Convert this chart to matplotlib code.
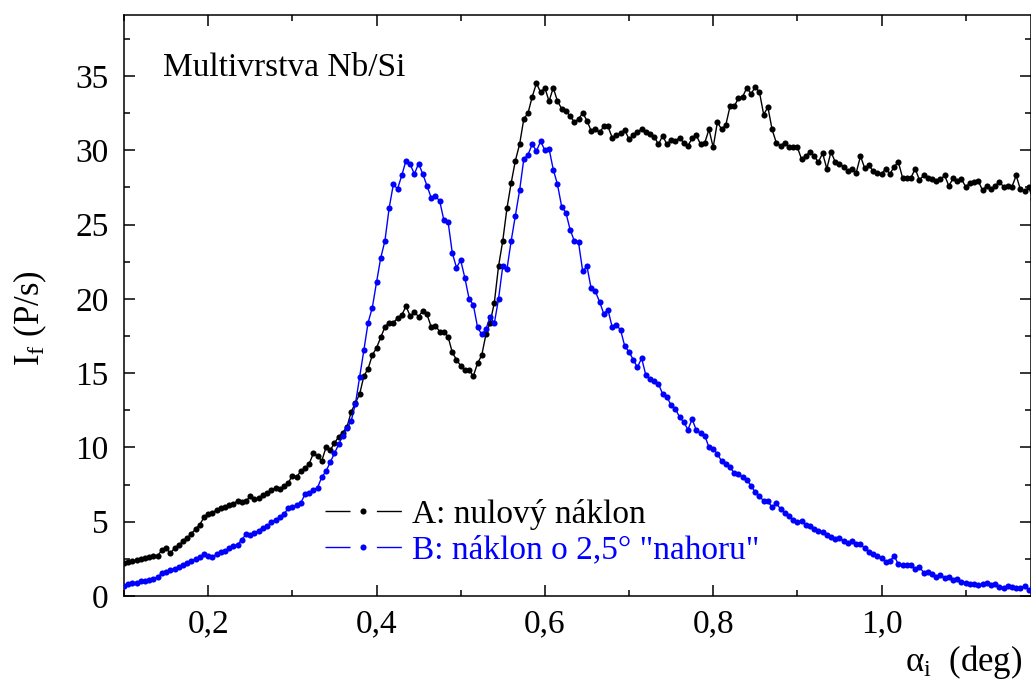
import numpy as np
import matplotlib
matplotlib.use("Agg")
import matplotlib.pyplot as plt
from matplotlib.lines import Line2D
from matplotlib.ticker import MultipleLocator, FuncFormatter

# ---------------- data ----------------
angle_start = 0.100
angle_step = 0.005
angle_count = 217

intensity_A = [
    2.2, 2.3, 2.35, 2.4, 2.5, 2.55, 2.6, 2.7, 2.7, 3.1,
    3.2, 2.9, 3.2, 3.4, 3.7, 3.9, 4.2, 4.5, 4.8, 5.3,
    5.5, 5.6, 5.8, 5.9, 6.0, 6.1, 6.2, 6.4, 6.3, 6.4,
    6.7, 6.5, 6.6, 6.8, 6.9, 7.1, 7.3, 7.2, 7.4, 7.6,
    8.1, 8.0, 8.4, 8.6, 8.9, 9.6, 9.4, 9.1, 10.0, 9.8,
    10.3, 10.7, 11.0, 11.4, 12.4, 13.0, 13.6, 14.8, 15.3, 16.2,
    16.7, 17.4, 18.1, 18.4, 18.4, 18.7, 18.9, 19.5, 18.85, 19.1,
    18.8, 19.2, 18.95, 18.1, 18.2, 17.8, 17.8, 17.45, 16.4, 15.9,
    15.5, 15.2, 15.2, 14.8, 15.65, 16.2, 17.6, 18.4, 19.75, 22.2,
    23.9, 26.1, 27.8, 29.3, 30.4, 32.1, 32.5, 33.6, 34.5, 33.9,
    34.2, 33.3, 34.2, 33.3, 32.8, 32.65, 32.3, 31.9, 32.1, 32.5,
    32.0, 31.3, 31.4, 31.2, 31.6, 31.6, 30.85, 31.0, 31.15, 31.35,
    30.75, 31.0, 31.25, 31.4, 31.25, 31.1, 30.9, 30.4, 30.97, 30.4,
    30.7, 30.6, 30.85, 30.5, 30.3, 30.8, 31.0, 30.4, 30.5, 31.4,
    30.2, 31.9, 31.4, 31.7, 32.95, 32.95, 33.5, 33.6, 34.2, 33.8,
    34.25, 33.9, 32.4, 32.9, 31.4, 30.5, 30.3, 30.5, 30.2, 30.2,
    30.2, 29.4, 29.6, 29.9, 29.6, 29.2, 29.8, 28.76, 29.9, 29.2,
    29.05, 28.9, 28.6, 28.76, 28.5, 29.6, 28.8, 28.98, 28.6, 28.5,
    28.4, 28.76, 28.4, 28.9, 29.2, 28.15, 28.15, 28.15, 28.76, 28.0,
    28.3, 28.15, 28.04, 27.9, 28.04, 28.3, 27.6, 28.1, 27.9, 28.04,
    27.55, 27.77, 27.86, 27.93, 27.3, 27.6, 27.36, 27.6, 27.86, 27.55,
    27.6, 27.55, 28.3, 27.36, 27.25, 27.5, 26.7,
]

intensity_B = [
    0.7, 0.8, 0.85, 0.9, 1.0, 1.0, 1.1, 1.15, 1.25, 1.55,
    1.6, 1.75, 1.85, 1.95, 2.1, 2.25, 2.35, 2.5, 2.6, 2.8,
    2.7, 2.6, 2.8, 2.95, 3.05, 3.2, 3.35, 3.45, 3.8, 4.15,
    4.1, 4.25, 4.4, 4.6, 4.7, 4.95, 5.1, 5.3, 5.5, 5.9,
    6.0, 6.1, 6.25, 6.85, 6.9, 7.1, 7.3, 8.0, 8.4, 9.0,
    9.6, 10.2, 10.8, 11.3, 11.8, 12.95, 14.75, 16.55, 18.4, 19.4,
    21.1, 22.75, 23.9, 26.1, 27.7, 27.4, 28.3, 29.3, 29.05, 28.4,
    29.1, 28.4, 27.6, 26.8, 26.9, 26.6, 25.3, 25.2, 23.1, 22.1,
    22.6, 21.4, 20.0, 19.6, 18.1, 17.6, 17.95, 18.8, 18.36, 20.0,
    22.2, 22.0, 23.9, 25.6, 27.3, 29.4, 29.7, 30.4, 29.95, 30.6,
    30.0, 30.1, 28.7, 27.7, 26.2, 25.8, 24.66, 23.9, 23.8, 21.85,
    22.2, 20.7, 20.5, 19.8, 19.0, 19.26, 18.1, 18.24, 17.9, 16.8,
    16.44, 15.9, 15.4, 16.0, 14.86, 14.6, 14.5, 14.26, 13.6, 13.4,
    12.84, 12.6, 12.05, 11.7, 11.2, 11.9, 11.15, 10.97, 10.8, 10.0,
    9.9, 9.57, 9.07, 8.85, 8.67, 8.27, 8.2, 8.0, 7.8, 7.43,
    6.98, 6.76, 6.37, 6.37, 5.97, 6.24, 5.86, 5.6, 5.4, 5.1,
    5.0, 5.05, 4.8, 4.7, 4.5, 4.4, 4.3, 4.1, 4.0, 3.85,
    3.9, 3.7, 3.6, 3.7, 3.5, 3.49, 3.22, 2.97, 2.8, 2.7,
    2.55, 2.32, 2.35, 2.7, 2.14, 2.09, 2.09, 2.09, 1.8, 1.96,
    1.58, 1.64, 1.5, 1.28, 1.42, 1.2, 1.28, 1.06, 1.13, 0.97,
    0.9, 0.83, 0.83, 0.74, 0.79, 0.9, 0.74, 0.79, 0.61, 0.56,
    0.68, 0.61, 0.52, 0.56, 0.68, 0.38, 0.3,
]

label_A = "A: nulový náklon"
label_B = 'B: náklon o 2,5° "nahoru"'
title_text = "Multivrstva Nb/Si"
x_ticks = [0.2, 0.4, 0.6, 0.8, 1.0]
y_ticks = [0, 5, 10, 15, 20, 25, 30, 35]

angles = np.round(angle_start + angle_step * np.arange(angle_count), 3)

# ---------------- figure ----------------
plt.rcParams['font.family'] = ['Liberation Serif', 'DejaVu Serif']
plt.rcParams['mathtext.fontset'] = 'custom'
plt.rcParams['mathtext.rm'] = 'Liberation Serif'
plt.rcParams['mathtext.it'] = 'Liberation Serif:italic'
plt.rcParams['lines.scale_dashes'] = False

W, H = 1031, 682
fig = plt.figure(figsize=(W / 100, H / 100), dpi=100)
ax = fig.add_axes([124 / W, 1 - 596 / H, (1030.5 - 124) / W, (596 - 15) / H])

col_A = '#000000'
col_B = '#0000ff'
ax.plot(angles, intensity_A, '-o', color=col_A, lw=1.0, ms=4.4, mew=0, zorder=3)
ax.plot(angles, intensity_B, '-o', color=col_B, lw=1.0, ms=4.4, mew=0, zorder=3)

ax.set_xlim(0.1, 1.177)
ax.set_ylim(0, 39.1)

ax.set_xticks(x_ticks)
ax.set_yticks(y_ticks)
ax.xaxis.set_minor_locator(MultipleLocator(0.1))
ax.yaxis.set_minor_locator(MultipleLocator(2.5))
ax.xaxis.set_major_formatter(FuncFormatter(lambda v, p: f"{v:.1f}".replace('.', ',')))
ax.yaxis.set_major_formatter(FuncFormatter(lambda v, p: f"{int(round(v))}"))

ax.tick_params(which='both', direction='in', top=True, right=True, width=1.1, colors='black')
ax.tick_params(which='major', length=8)
ax.tick_params(which='minor', length=4.5)
ax.tick_params(axis='x', which='major', labelsize=24, pad=9)
ax.tick_params(axis='y', which='major', labelsize=24, pad=11)
for s in ax.spines.values():
    s.set_linewidth(1.1)

fig.text(163 / W, 1 - 76 / H, title_text, fontsize=24, ha='left', va='baseline')

fig.text(30 / W, 1 - 318 / H, r'I$_\mathregular{f}$ (P/s)', fontsize=25,
         rotation=90, ha='center', va='center')
fig.text(1022 / W, 1 - 662 / H, r'$\mathregular{\alpha}_\mathregular{i}$  (deg)', fontsize=25,
         ha='right', va='center')

dash = (0, (18, 19))
h_A = Line2D([], [], color=col_A, lw=1.0, linestyle=dash, marker='o', ms=4.4, mew=0)
h_B = Line2D([], [], color=col_B, lw=1.0, linestyle=dash, marker='o', ms=4.4, mew=0)
leg = ax.legend([h_A, h_B], [label_A, label_B], loc='center left',
                bbox_to_anchor=(325 / W, 1 - 532 / H), bbox_transform=fig.transFigure,
                frameon=False, fontsize=24, handlelength=2.3, handletextpad=0.3,
                labelspacing=0.15, borderpad=0, borderaxespad=0, numpoints=1,
                labelcolor='linecolor')

fig.savefig('out.png', dpi=100)
